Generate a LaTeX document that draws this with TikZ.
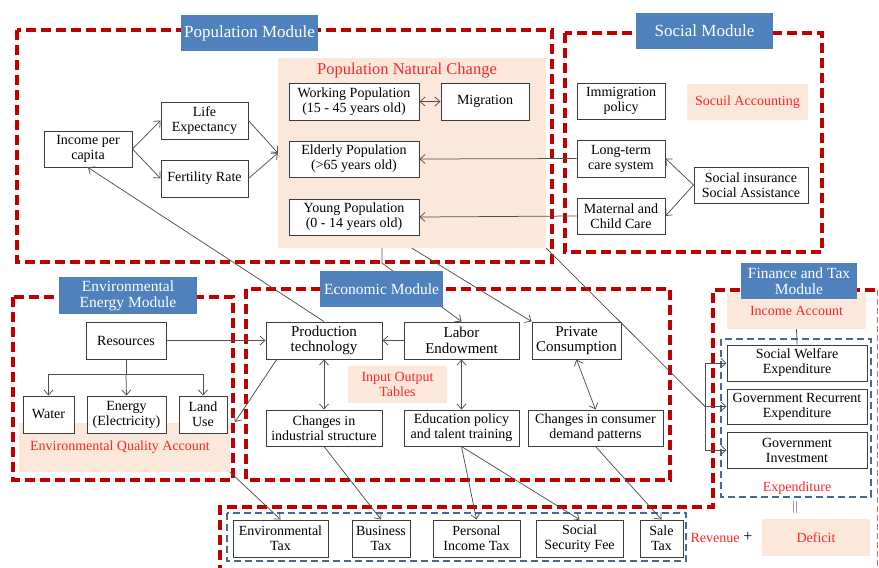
\documentclass[tikz,border=0pt]{standalone}
\usepackage{fontspec}
\setmainfont{Liberation Serif}
\usetikzlibrary{arrows.meta}
\definecolor{reddash}{RGB}{192,0,0}
\definecolor{thinred}{RGB}{230,100,100}
\definecolor{bluedash}{RGB}{68,106,150}
\definecolor{modblue}{RGB}{79,129,189}
\definecolor{peach}{RGB}{252,232,218}
\definecolor{redtext}{RGB}{250,40,40}
\definecolor{boxgray}{RGB}{60,60,60}
\definecolor{linegray}{RGB}{80,80,80}
\definecolor{eqpurple}{RGB}{110,80,160}
\begin{document}
\begin{tikzpicture}[x=1pt,y=-1pt,
  box/.style={draw=boxgray,fill=white,line width=1pt,align=center,inner sep=0pt,
    font={\fontsize{14}{15}\selectfont}},
  ebox/.style={box,font={\fontsize{15}{15.5}\selectfont}},
  peachbox/.style={fill=peach,inner sep=0pt,align=center},
  modlabel/.style={fill=modblue,text=white,inner sep=0pt,align=center,
    font={\fontsize{17}{17}\selectfont}},
  smodlabel/.style={modlabel,font={\fontsize{15.5}{16}\selectfont}},
  redtxt/.style={text=redtext,align=center,inner sep=0pt,font={\fontsize{14}{15}\selectfont}},
  reddashed/.style={draw=reddash,line width=3.2pt,dash pattern=on 10pt off 5pt},
  bluedashed/.style={draw=bluedash,line width=1.5pt,dash pattern=on 7pt off 4pt},
  conn/.style={draw=linegray,line width=0.75pt},
  arr/.style={conn,-{Straight Barb[length=5pt,width=9pt]}},
  darr/.style={conn,{Straight Barb[length=5pt,width=9pt]}-{Straight Barb[length=5pt,width=9pt]}}
]
\useasboundingbox (0,0) rectangle (879,568);

% ---------- module frames ----------
\draw[reddashed] (17,30) rectangle (552,262);
\draw[reddashed] (565,33) rectangle (822,252);
\draw[reddashed] (13,297) rectangle (233,480);
\draw[reddashed] (246,289) rectangle (670,480);
\draw[reddashed] (220,575) -- (220,507) -- (713,507) -- (713,290) -- (878,290);
\draw[draw=thinred,line width=0.8pt,dash pattern=on 6pt off 3pt] (877,290) -- (877,568);
\draw[bluedashed] (227,513) rectangle (686,561);
\draw[bluedashed] (721,339) rectangle (871,497);

% ---------- peach areas ----------
\node[peachbox,minimum width=268pt,minimum height=190pt] (pnc) at (412,153) {};
\node[redtxt,font={\fontsize{16.5}{17}\selectfont}] (pnctitle) at (407,71) {Population Natural Change};
\node[peachbox,minimum width=121pt,minimum height=36pt,text=redtext,
  font={\fontsize{14}{15}\selectfont}] (socacc) at (747.5,102) {Socuil Accounting};
\node[peachbox,minimum width=211pt,minimum height=49pt] (eqa) at (124.5,447.5) {};
\node[redtxt] (eqatxt) at (120,447) {Environmental Quality Account};
\node[peachbox,minimum width=99pt,minimum height=37pt,text=redtext,
  font={\fontsize{14}{15}\selectfont}] (iot) at (397.5,384.5) {Input Output\\Tables};
\node[peachbox,minimum width=139pt,minimum height=36pt,text=redtext,
  font={\fontsize{14}{15}\selectfont}] (incacc) at (796.5,311) {Income Account};
\node[peachbox,minimum width=108pt,minimum height=37pt,text=redtext,
  font={\fontsize{14}{15}\selectfont}] (deficit) at (816,537.5) {Deficit};

% ---------- population module ----------
\node[box,minimum width=88pt,minimum height=36pt] (inc) at (88,149) {Income per\\capita};
\node[box,minimum width=87pt,minimum height=37pt] (life) at (204.5,120.5) {Life\\Expectancy};
\node[box,minimum width=87pt,minimum height=37pt] (fert) at (204.5,178.5) {Fertility Rate};
\node[box,minimum width=130pt,minimum height=37pt] (work) at (354,101.5) {Working Population\\(15 - 45 years old)};
\node[box,minimum width=88pt,minimum height=37pt] (migr) at (485,101.5) {Migration};
\node[box,minimum width=130pt,minimum height=36pt] (eld) at (354,159) {Elderly Population\\(>65 years old)};
\node[box,minimum width=130pt,minimum height=36pt] (young) at (354,217) {Young Population\\(0 - 14 years old)};

% ---------- social module ----------
\node[box,minimum width=88pt,minimum height=36pt] (immig) at (621,101) {Immigration\\policy};
\node[box,minimum width=88pt,minimum height=37pt] (ltc) at (621,158.5) {Long-term\\care system};
\node[box,minimum width=88pt,minimum height=36pt] (mat) at (621,216) {Maternal and\\Child Care};
\node[box,minimum width=114pt,minimum height=36pt] (sins) at (751,185) {Social insurance\\Social Assistance};

% ---------- environmental module ----------
\node[box,minimum width=80pt,minimum height=37pt] (res) at (126,340.5) {Resources};
\node[box,minimum width=51pt,minimum height=37pt] (water) at (48.5,414.5) {Water};
\node[box,minimum width=79pt,minimum height=37pt] (energy) at (126.5,414.5) {Energy\\(Electricity)};
\node[box,minimum width=48pt,minimum height=37pt] (land) at (203,414.5) {Land\\Use};

% ---------- economic module ----------
\node[ebox,minimum width=116pt,minimum height=37pt] (prod) at (324,340.5) {Production\\technology};
\node[ebox,minimum width=115pt,minimum height=37pt] (labor) at (461.5,340.5) {Labor\\Endowment};
\node[ebox,minimum width=89pt,minimum height=37pt] (priv) at (576.5,340.5) {Private\\Consumption};
\node[box,minimum width=116pt,minimum height=36pt] (cis) at (324,428) {Changes in\\industrial structure};
\node[box,minimum width=115pt,minimum height=36pt] (edu) at (461.5,428) {Education policy\\and talent training};
\node[box,minimum width=135pt,minimum height=36pt] (ccd) at (595.5,428) {Changes in consumer\\demand patterns};

% ---------- finance module ----------
\node[box,minimum width=140pt,minimum height=36pt] (swe) at (797,363) {Social Welfare\\Expenditure};
\node[box,minimum width=140pt,minimum height=35pt] (gre) at (797,406.5) {Government Recurrent\\Expenditure};
\node[box,minimum width=140pt,minimum height=36pt] (gi) at (797,450) {Government\\Investment};
\node[redtxt] (exptxt) at (797,488) {Expenditure};
\node[text=eqpurple,inner sep=0pt,font={\fontsize{13}{13}\selectfont}] (eqsign) at (795,507) {||};
\node[redtxt] (revtxt) at (715,538) {Revenue};
\node[inner sep=0pt,font={\fontsize{16}{16}\selectfont}] (plus) at (748,537) {+};

% ---------- taxes ----------
\node[box,minimum width=95pt,minimum height=37pt] (envtax) at (280.5,538.5) {Environmental\\Tax};
\node[box,minimum width=58pt,minimum height=37pt] (bustax) at (381,538.5) {Business\\Tax};
\node[box,minimum width=87pt,minimum height=37pt] (pit) at (476.5,538.5) {Personal\\Income Tax};
\node[box,minimum width=87pt,minimum height=37pt] (ssf) at (579.5,538.5) {Social\\Security Fee};
\node[box,minimum width=43pt,minimum height=37pt] (stax) at (661.5,538.5) {Sale\\Tax};

% ---------- helper coordinates ----------
\coordinate (pncA) at (382,248);
\coordinate (pncAbend) at (382,263);
\coordinate (resjoin) at (126,374);
\coordinate (waterjoin) at (48.5,374);
\coordinate (landjoin) at (203,374);
\coordinate (prodBL) at (277,359);
\coordinate (envedge) at (235,422);
\coordinate (finbus) at (705,406.5);
\coordinate (finTop) at (705,363);
\coordinate (finBot) at (705,450);

% ---------- connectors ----------
\draw[arr] (inc.east) -- (life.west);
\draw[arr] (inc.east) -- (fert.west);
\draw[arr] (life.east) -- (pnc.west);
\draw[arr] (fert.east) -- (pnc.west);
\draw[darr] (work.east) -- (migr.west);
\draw[arr] (ltc.west) -- (eld.east);
\draw[arr] (mat.west) -- (young.east);
\draw[arr] (sins.west) -- (ltc.east);
\draw[arr] (sins.west) -- (mat.east);

\draw[arr] (pncA) -- (pncAbend) -- (labor.north);
\draw[arr] (pnc.south) -- (priv.north west);
\draw[conn] (pnc.south east) -- (finbus);
\draw[arr] (finbus) -- (gre.west);
\draw[conn] (finTop) -- (finBot);
\draw[arr] (finTop) -- (swe.west);
\draw[arr] (finBot) -- (gi.west);
\draw[conn] (incacc.south) -- (swe.north);

\draw[arr] (prod.north) -- (inc.south);
\draw[arr] (res.east) -- (prod.west);
\draw[conn] (res.south) -- (resjoin);
\draw[conn] (waterjoin) -- (landjoin);
\draw[arr] (resjoin) -- (energy.north);
\draw[arr] (waterjoin) -- (water.north);
\draw[arr] (landjoin) -- (land.north);
\draw[arr] (prodBL) -- (envedge);

\draw[arr] (labor.west) -- (prod.east);
\draw[darr] (prod.south) -- (cis.north);
\draw[darr] (labor.south) -- (edu.north);
\draw[darr] (priv.south) -- (ccd.north);

\draw[arr] (eqa.south east) -- (envtax.north);
\draw[arr] (cis.south) -- (bustax.north);
\draw[arr] (edu.south) -- (pit.north);
\draw[arr] (edu.south) -- (ssf.north);
\draw[arr] (ccd.south) -- (stax.north);

% ---------- module labels (on top) ----------
\node[modlabel,minimum width=137pt,minimum height=36pt] (poplabel) at (249.5,33) {Population Module};
\node[modlabel,minimum width=137pt,minimum height=36pt] (soclabel) at (704.5,31) {Social Module};
\node[smodlabel,minimum width=138pt,minimum height=37pt] (envlabel) at (128,295.5) {Environmental\\Energy Module};
\node[smodlabel,minimum width=123pt,minimum height=36pt] (econlabel) at (381.5,289) {Economic Module};
\node[smodlabel,minimum width=116pt,minimum height=36pt] (finlabel) at (799,281) {Finance and Tax\\Module};
\end{tikzpicture}
\end{document}
